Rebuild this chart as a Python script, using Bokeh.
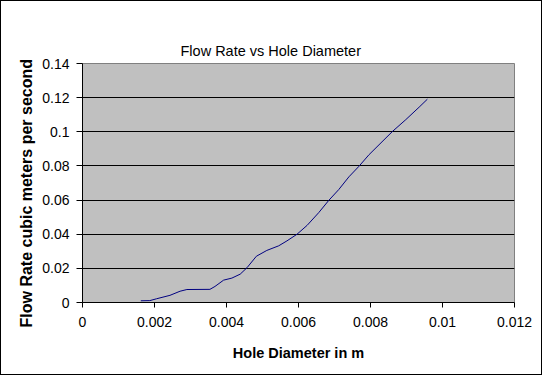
from bokeh.plotting import figure
from bokeh.models import FixedTicker, Range1d, Title, LinearAxis
from bokeh.embed import file_html
from bokeh.resources import INLINE

# ---- data ----
hole_diameter = [0.00162, 0.00187, 0.00206, 0.00243, 0.00271, 0.00290, 0.00354,
                 0.00368, 0.00392, 0.00415, 0.00438, 0.00457, 0.00483, 0.00512,
                 0.00545, 0.00568, 0.00596, 0.00624, 0.00656, 0.00684, 0.00712,
                 0.00740, 0.00768, 0.00796, 0.00861, 0.00898, 0.00935, 0.00958]
flow_rate = [0.0010, 0.0011, 0.0022, 0.0042, 0.0066, 0.0076, 0.0077,
             0.0094, 0.0131, 0.0143, 0.0166, 0.0204, 0.0271, 0.0305,
             0.0332, 0.0361, 0.0400, 0.0452, 0.0526, 0.0598, 0.0662,
             0.0736, 0.0798, 0.0866, 0.1002, 0.1071, 0.1144, 0.1191]

x_ticks = [0, 0.002, 0.004, 0.006, 0.008, 0.010, 0.012]
x_tick_labels = ["0", "0.002", "0.004", "0.006", "0.008", "0.01", "0.012"]
y_ticks = [0, 0.02, 0.04, 0.06, 0.08, 0.10, 0.12, 0.14]
y_tick_labels = ["0", "0.02", "0.04", "0.06", "0.08", "0.1", "0.12", "0.14"]

title_text = "Flow Rate vs Hole Diameter"
x_label_text = "Hole Diameter in m"
y_label_text = "Flow Rate cubic meters per second"

FONT = "Liberation Sans"

W, H = 542, 375
p = figure(width=W, height=H, output_backend="svg", toolbar_location=None,
           x_range=Range1d(x_ticks[0], x_ticks[-1]),
           y_range=Range1d(y_ticks[0], y_ticks[-1]),
           min_border_left=81, min_border_right=29,
           min_border_top=62, min_border_bottom=74)

p.background_fill_color = "#C0C0C0"
p.border_fill_color = "white"
p.outline_line_color = "#808080"
p.styles = {"border": "1px solid black"}

p.line(hole_diameter, flow_rate, line_color="#000080", line_width=1)

xaxis = p.xaxis[0]
yaxis = p.yaxis[0]
for ax, ticks, labels in ((xaxis, x_ticks, x_tick_labels),
                          (yaxis, y_ticks, y_tick_labels)):
    ax.ticker = FixedTicker(ticks=ticks)
    ax.major_label_overrides = dict(zip(ticks, labels))
    ax.minor_tick_line_color = None
    ax.major_tick_in = 0
    ax.axis_line_color = "black"
    ax.major_tick_line_color = "black"
    ax.major_label_text_font = FONT
    ax.major_label_text_font_size = "14px"
    ax.major_label_text_color = "black"

xaxis.major_tick_out = 5
xaxis.major_label_standoff = 9
yaxis.major_tick_out = 6
yaxis.major_label_standoff = 7

xaxis.axis_label = x_label_text
xaxis.axis_label_text_font = FONT
xaxis.axis_label_text_font_style = "bold"
xaxis.axis_label_text_font_size = "14.5px"
xaxis.axis_label_text_color = "black"
xaxis.axis_label_standoff = 15

p.xgrid.grid_line_color = None
p.ygrid.ticker = FixedTicker(ticks=y_ticks[1:-1])
p.ygrid.grid_line_color = "black"

# chart title
p.title.text = title_text
p.title.align = "left"
p.title.offset = 98
p.title.text_font = FONT
p.title.text_font_size = "14.5px"
p.title.text_font_style = "normal"
p.title.text_color = "black"

# tick-less, blank axis used only as a spacer between plot area and title
spacer = LinearAxis(ticker=FixedTicker(ticks=[]), axis_line_color=None,
                    major_tick_line_color="white", minor_tick_line_color=None,
                    major_tick_in=0, major_tick_out=27, minor_tick_out=0,
                    major_label_standoff=0)
p.add_layout(spacer, "above")

# y axis title, placed as a side title so it can be shifted along the axis
ytitle = Title(text=y_label_text, align="left", offset=-25,
               text_font=FONT, text_font_size="16px", text_font_style="bold",
               text_color="black")
p.add_layout(ytitle, "left")

open("out.html", "w").write(file_html(p, INLINE))
